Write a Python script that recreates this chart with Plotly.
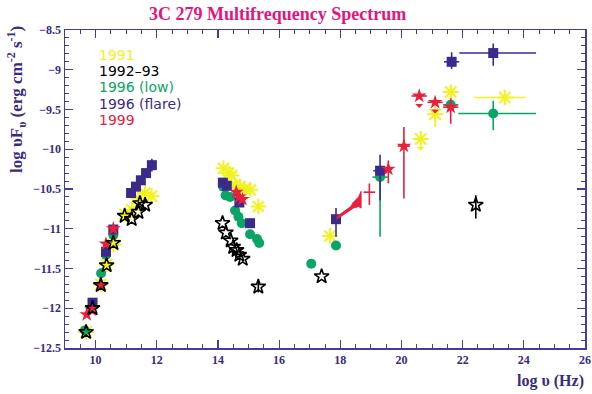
import plotly.graph_objects as go

# ---------------- data ----------------
# 1991 (yellow asterisks)
y91_x = [9.69, 10.17, 10.36, 10.58, 10.96, 11.18, 11.40, 11.61, 11.83,
         14.18, 14.35, 14.45, 14.55, 14.72, 14.86, 15.06, 15.32,
         17.66, 20.63, 21.10, 21.61, 23.38]
y91_y = [-12.30, -11.70, -11.45, -11.20, -10.82, -10.76, -10.62, -10.55, -10.59,
         -10.24, -10.30, -10.33, -10.45, -10.47, -10.50, -10.51, -10.72,
         -11.09, -9.87, -9.56, -9.28, -9.35]
y91_exm = [0]*17 + [0, 0, 0.25, 0.26, 1.00]
y91_exp = [0]*17 + [0, 0, 0.25, 0.26, 0.68]
y91_eym = [0]*17 + [0, 0, 0.16, 0.18, 0]
y91_eyp = [0]*17 + [0, 0, 0.10, 0.07, 0]

# 1992-93 (black open stars)
b93_x = [9.69, 9.90, 10.17, 10.36, 10.58, 10.95, 11.18, 11.40, 11.45, 11.62,
         14.15, 14.26, 14.42, 14.50, 14.61, 14.70, 14.81, 15.32,
         17.39, 22.43]
b93_y = [-12.30, -12.00, -11.71, -11.46, -11.18, -10.84, -10.88, -10.79, -10.68, -10.70,
         -10.93, -11.05, -11.15, -11.23, -11.27, -11.33, -11.38, -11.73,
         -11.60, -10.70]
b93_eym = [0]*17 + [0.07, 0, 0.17]
b93_eyp = [0]*17 + [0.07, 0, 0.12]

# 1996 low (green circles)
g96_x = [9.65, 10.18, 10.34, 10.58,
         14.17, 14.25, 14.40, 14.56, 14.67, 14.78, 15.05, 15.28, 15.35,
         17.05, 17.86, 19.30, 21.61, 23.00]
g96_y = [-12.28, -11.56, -11.33, -11.08,
         -10.47, -10.58, -10.60, -10.77, -10.85, -10.93, -11.07, -11.13, -11.18,
         -11.44, -11.21, -10.35, -9.44, -9.55]
g96_exm = [0]*15 + [0.25, 0.25, 1.14]
g96_exp = [0]*15 + [0.25, 0.25, 1.40]
g96_eym = [0]*15 + [0.75, 0, 0.21]
g96_eyp = [0]*15 + [0.05, 0, 0.16]

# 1996 flare (purple squares)
p96_x = [9.90, 10.34, 10.58, 11.16, 11.32, 11.48, 11.65, 11.84,
         14.16, 14.29, 14.70, 15.05,
         17.86, 19.30, 21.64, 23.00]
p96_y = [-11.93, -11.29, -11.01, -10.55, -10.47, -10.39, -10.30, -10.20,
         -10.42, -10.46, -10.67, -10.93,
         -10.88, -10.27, -8.90, -8.79]
p96_exm = [0]*13 + [0.22, 0.25, 1.11]
p96_exp = [0]*13 + [0.22, 0.25, 1.40]
p96_eym = [0]*7 + [0.08] + [0]*4 + [0.22, 0.37, 0.09, 0.16]
p96_eyp = [0]*7 + [0.08] + [0]*4 + [0.14, 0.20, 0.12, 0.12]

# 1999 (red stars)
r99_x = [9.71, 9.87, 10.18, 10.34, 10.58,
         14.60, 14.70, 14.80,
         19.57, 20.08, 20.58, 21.10, 21.61]
r99_y = [-12.08, -12.02, -11.71, -11.19, -11.00,
         -10.54, -10.60, -10.63,
         -10.25, -9.96, -9.33, -9.41, -9.47]
r99_exm = [0]*8 + [0.13, 0.20, 0.25, 0.25, 0.25]
r99_exp = [0]*8 + [0.13, 0.20, 0.25, 0.25, 0.25]
r99_eym = [0]*8 + [0.18, 0.66, 0, 0, 0.21]
r99_eyp = [0]*8 + [0.11, 0.24, 0, 0, 0.11]

# 1999 X-ray cross without marker
r99c_x = [18.95]
r99c_y = [-10.54]
r99c_ex = [0.19]
r99c_eym = [0.16]
r99c_eyp = [0.11]

# 1999 X-ray spectrum band
band_x = [17.88, 18.05, 18.20, 18.35, 18.42, 18.50, 18.60, 18.68]
band_hi = [-10.85, -10.80, -10.76, -10.72, -10.67, -10.64, -10.60, -10.53]
band_lo = [-10.88, -10.84, -10.80, -10.76, -10.74, -10.73, -10.72, -10.74]

# upper limits (x, y, arrow length, colour key)
lim_x = [20.58, 21.10, 20.63]
lim_y = [-9.33, -9.41, -9.87]
lim_len = [0.15, 0.14, 0.15]
lim_col = ["red", "red", "yellow"]

legend_labels = ["1991", "1992\u201393", "1996 (low)", "1996 (flare)", "1999"]

# ---------------- styles ----------------
YEL = "#f2f21c"
BLK = "#000000"
GRN = "#0aa565"
PUR = "#3b2a8c"
RED = "#e8203c"
AX = "#4b3c9a"
TXT = "#3a2a80"
colmap = {"red": RED, "yellow": YEL}

fig = go.Figure()


def add(x, y, sym, size, color, lw, exm=None, exp=None, eym=None, eyp=None):
    kw = {}
    if exm is not None:
        kw["error_x"] = dict(type="data", symmetric=False, array=exp, arrayminus=exm,
                             color=color, thickness=1.6, width=0)
    if eym is not None:
        kw["error_y"] = dict(type="data", symmetric=False, array=eyp, arrayminus=eym,
                             color=color, thickness=1.6, width=0)
    fig.add_trace(go.Scatter(
        x=x, y=y, mode="markers", showlegend=False, hoverinfo="skip",
        marker=dict(symbol=sym, size=size, color=color,
                    line=dict(color=color, width=lw)),
        **kw))


add(y91_x, y91_y, "asterisk-open", 13, YEL, 2, y91_exm, y91_exp, y91_eym, y91_eyp)
add(g96_x, g96_y, "circle", 10, GRN, 0, g96_exm, g96_exp, g96_eym, g96_eyp)
add(p96_x, p96_y, "square", 10, PUR, 0, p96_exm, p96_exp, p96_eym, p96_eyp)

# red band
fig.add_trace(go.Scatter(
    x=band_x + band_x[::-1], y=band_hi + band_lo[::-1], mode="lines",
    fill="toself", fillcolor=RED, line=dict(color=RED, width=1),
    showlegend=False, hoverinfo="skip"))
fig.add_trace(go.Scatter(
    x=r99c_x, y=r99c_y, mode="markers", showlegend=False, hoverinfo="skip",
    marker=dict(size=1, color=RED),
    error_x=dict(type="data", array=r99c_ex, color=RED, thickness=1.6, width=0),
    error_y=dict(type="data", symmetric=False, array=r99c_eyp, arrayminus=r99c_eym,
                 color=RED, thickness=1.6, width=0)))
add(r99_x, r99_y, "star", 11, RED, 0, r99_exm, r99_exp, r99_eym, r99_eyp)
fig.add_trace(go.Scatter(
    x=b93_x, y=b93_y, mode="markers", showlegend=False, hoverinfo="skip",
    marker=dict(symbol="star-open", size=11, color=BLK, line=dict(color=BLK, width=1.6)),
    error_y=dict(type="data", symmetric=False, array=b93_eyp, arrayminus=b93_eym,
                 color=BLK, thickness=1.6, width=0)))

annotations = []
for xx, yy, ll, cc in zip(lim_x, lim_y, lim_len, lim_col):
    annotations.append(dict(
        x=xx, y=yy - ll, ax=xx, ay=yy, xref="x", yref="y", axref="x", ayref="y",
        showarrow=True, arrowhead=1, arrowsize=1, arrowwidth=1.3,
        arrowcolor=colmap[cc], text=" "))

leg_cols = [YEL, BLK, GRN, PUR, RED]
for i, (lab, c) in enumerate(zip(legend_labels, leg_cols)):
    annotations.append(dict(
        x=(97 - 65) / 520, y=(348 - (55 + 16.2 * i)) / 318, xref="paper", yref="paper",
        xanchor="left", yanchor="middle", showarrow=False, text=lab,
        font=dict(family="DejaVu Sans", size=14, color=c)))

# title
annotations.append(dict(
    x=(277 - 65) / 520, y=(348 - 14) / 318, xref="paper", yref="paper",
    xanchor="center", yanchor="middle", showarrow=False,
    text="<b>3C 279 Multifrequency Spectrum</b>",
    font=dict(family="Liberation Serif", size=18, color="#e3157c")))
# y-axis title
annotations.append(dict(
    x=(17 - 65) / 520, y=(348 - 100) / 318, xref="paper", yref="paper",
    xanchor="center", yanchor="middle", showarrow=False, textangle=-90,
    text="<b>log \u03c5F<sub>\u03c5</sub> (erg cm<sup>-2</sup> s<sup>-1</sup>)</b>",
    font=dict(family="Liberation Serif", size=17, color=TXT)))
# x-axis title
annotations.append(dict(
    x=(550 - 65) / 520, y=(348 - 381) / 318, xref="paper", yref="paper",
    xanchor="center", yanchor="middle", showarrow=False,
    text="<b>log \u03c5 (Hz)</b>",
    font=dict(family="Liberation Serif", size=16, color=TXT)))

axis_common = dict(
    showgrid=False, zeroline=False, showline=True, linecolor=AX, linewidth=1.5,
    ticks="inside", tickcolor=AX, tickwidth=1.2, ticklen=8, automargin=False,
    tickfont=dict(family="Liberation Serif", size=12, color=TXT),
)
xt = dict(range=[9, 26], tickmode="linear", tick0=10, dtick=2,
          minor=dict(dtick=0.5, ticks="inside", ticklen=4, tickcolor=AX, tickwidth=1))
yt = dict(range=[-12.5, -8.5], tickmode="linear", tick0=-12.5, dtick=0.5,
          minor=dict(dtick=0.1, ticks="inside", ticklen=4, tickcolor=AX, tickwidth=1))

fig.update_layout(
    width=592, height=394,
    margin=dict(l=65, r=7, t=30, b=46, autoexpand=False),
    paper_bgcolor="white", plot_bgcolor="white",
    xaxis=dict(**xt, **axis_common, tickprefix="<b>", ticksuffix="</b>"),
    yaxis=dict(**yt, **axis_common, tickprefix="<b>", ticksuffix="</b>"),
    xaxis2=dict(**xt, **axis_common, overlaying="x", side="top", showticklabels=False),
    yaxis2=dict(**yt, **axis_common, overlaying="y", side="right", showticklabels=False),
    annotations=annotations,
    showlegend=False,
)
fig.add_trace(go.Scatter(x=[None], y=[None], xaxis="x2", yaxis="y2",
                         showlegend=False, hoverinfo="skip"))

# remove the default 8px page margin so the 592x394 figure fills the window
fig.write_html("out.html",
               config={"displayModeBar": False, "staticPlot": True},
               post_script="document.body.style.margin='0';document.body.style.overflow='hidden';")
